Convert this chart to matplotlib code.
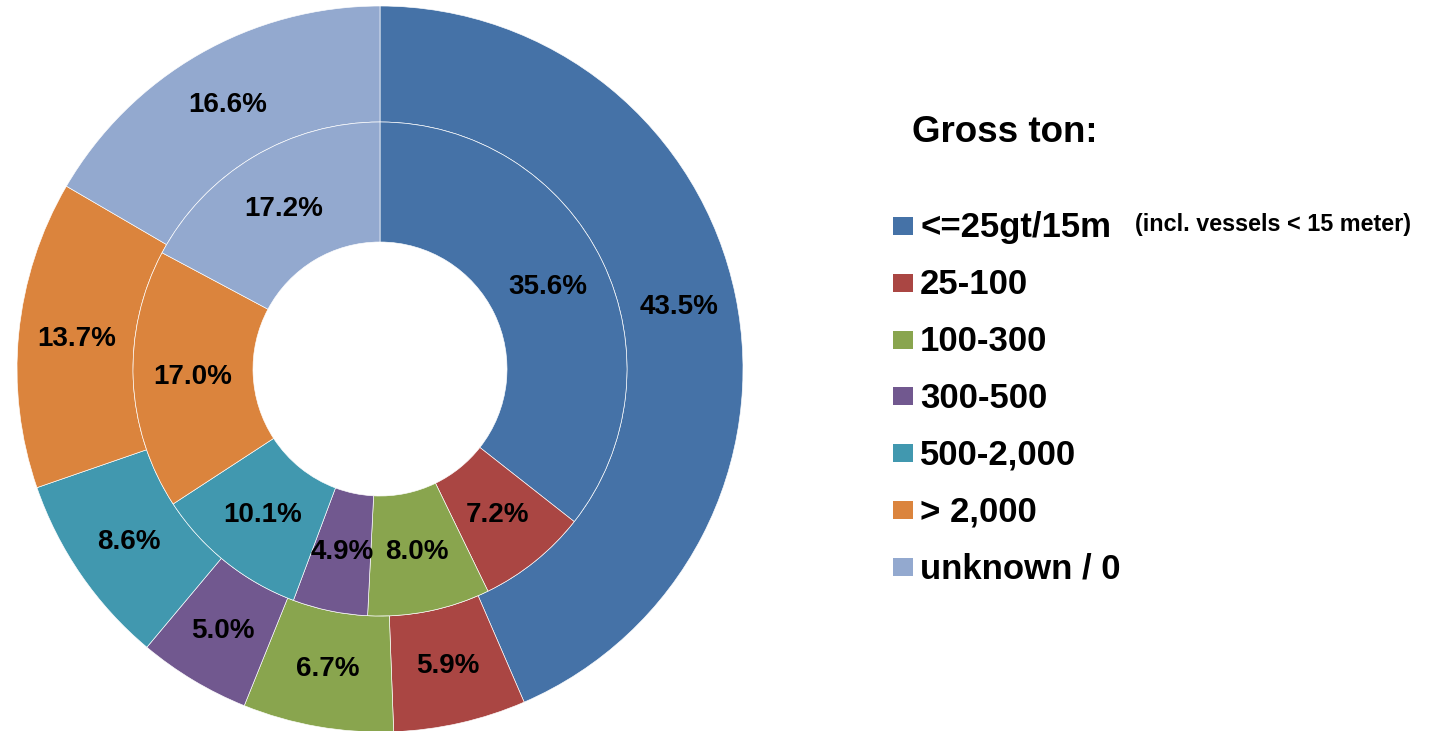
import matplotlib
matplotlib.use('Agg')
import matplotlib.pyplot as plt
from matplotlib.patches import Rectangle

plt.rcParams['font.family'] = ['Liberation Sans', 'DejaVu Sans']
plt.rcParams['font.weight'] = 'bold'

categories = ['<=25gt/15m', '25-100', '100-300', '300-500', '500-2,000', '> 2,000', 'unknown / 0']
outer_values = [43.5, 5.9, 6.7, 5.0, 8.6, 13.7, 16.6]
inner_values = [35.6, 7.2, 8.0, 4.9, 10.1, 17.0, 17.2]
colors = ['#4572A7', '#AA4643', '#89A54E', '#71588F', '#4198AF', '#DB843D', '#93A9CF']
legend_title = 'Gross ton:'
legend_note = '(incl. vessels < 15 meter)'

W, H = 1441, 731
fig = plt.figure(figsize=(W / 100, H / 100), dpi=100)

# pie axes: centre (380, 369) px from top-left, radius 363 px
R = 363
cx, cy = 380, H - 369
ax = fig.add_axes([(cx - R) / W, (cy - R) / H, 2 * R / W, 2 * R / H])

r_mid = 247 / R
r_hole = 127 / R
wedge_kw = dict(edgecolor='white', linewidth=0.45)
txt_kw = dict(fontsize=20, fontweight='bold', color='black')

ax.pie(outer_values, radius=1.0, colors=colors, startangle=90, counterclock=False,
       wedgeprops=dict(width=1.0 - r_mid, **wedge_kw),
       autopct=lambda p: f'{p:.1f}%', pctdistance=(1.0 + r_mid) / 2,
       textprops=txt_kw)
ax.pie(inner_values, radius=r_mid, colors=colors, startangle=90, counterclock=False,
       wedgeprops=dict(width=r_mid - r_hole, **wedge_kw),
       autopct=lambda p: f'{p:.1f}%', pctdistance=(r_mid + r_hole) / 2 / r_mid,
       textprops=txt_kw)
ax.set_xlim(-1, 1)
ax.set_ylim(-1, 1)
ax.axis('off')

# legend drawn by hand
fig.text(912 / W, 1 - 133 / H, legend_title, fontsize=26.5, fontweight='bold',
         ha='left', va='center')
row0, step = 226, 56.8
for i, (lab, col) in enumerate(zip(categories, colors)):
    yc = row0 + i * step
    fig.add_artist(Rectangle((893 / W, 1 - (yc + 9) / H), 20 / W, 18 / H,
                             transform=fig.transFigure, facecolor=col, edgecolor='none'))
    fig.text(920 / W, 1 - (yc + 2) / H, lab, fontsize=25, fontweight='bold',
             ha='left', va='center')
fig.text(1135 / W, 1 - 224 / H, legend_note, fontsize=16.8, fontweight='bold',
         ha='left', va='center')

fig.savefig('out.png', dpi=100)
